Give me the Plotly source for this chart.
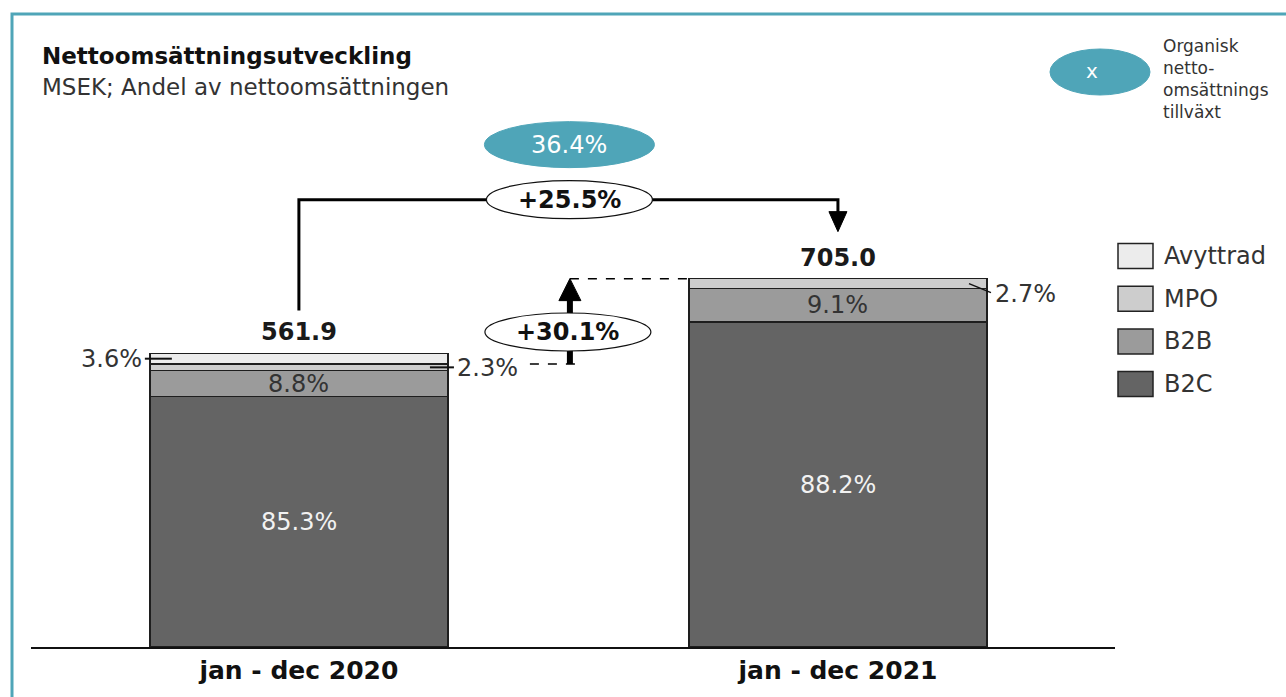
import plotly.graph_objects as go

# ---------------- data ----------------
categories = ["jan - dec 2020", "jan - dec 2021"]
totals = [561.9, 705.0]
series_names = ["B2C", "B2B", "MPO", "Avyttrad"]
share_b2c = [85.3, 88.2]
share_b2b = [8.8, 9.1]
share_mpo = [2.3, 2.7]
share_avyttrad = [3.6, 0.0]
growth_total = "+25.5%"
growth_excl_divested = "+30.1%"
organic_growth = "36.4%"

colors = {"B2C": "#646464", "B2B": "#9b9b9b", "MPO": "#cdcdcd", "Avyttrad": "#ececec"}
shares = {"B2C": share_b2c, "B2B": share_b2b, "MPO": share_mpo, "Avyttrad": share_avyttrad}

FONT = "DejaVu Sans"
TXT = "#333333"
TEAL = "#4fa5b8"
LBL = 24

# ---------------- geometry helpers ----------------
W, H = 1286, 697
L, R, T, B = 31, 1115, 20, 647
XMIN, XMAX = -0.497, 1.514
YMAX = 1200.0
PXX = (R - L) / (XMAX - XMIN)
PXY = (B - T) / YMAX

def dx(p):  # pixels -> x units
    return p / PXX

def dy(p):  # pixels -> y units
    return p / PXY

def paper_x(px):
    return (px - L) / (R - L)

def paper_y(py):
    return (B - py) / (B - T)

xpos = [0, 1]
bar_w = 0.553

values = {n: [t * s / 100 for t, s in zip(totals, shares[n])] for n in series_names}

fig = go.Figure()
for n in series_names:
    fig.add_trace(go.Bar(
        x=xpos, y=[v if v > 0 else None for v in values[n]], name=n,
        width=bar_w, marker=dict(color=colors[n], line=dict(color="#1e1e1e", width=1.5)),
        showlegend=False, hoverinfo="skip",
    ))

shapes = []
ann = []

# segment labels inside bars
for i in range(2):
    base = 0
    for n in series_names:
        v = values[n][i]
        mid = base + v / 2
        if n == "B2C":
            ann.append(dict(x=xpos[i], y=mid, text=f"{shares[n][i]:.1f}%", showarrow=False,
                            font=dict(family=FONT, size=LBL, color="#f2f2f2")))
        elif n == "B2B":
            ann.append(dict(x=xpos[i], y=mid, text=f"{shares[n][i]:.1f}%", showarrow=False,
                            font=dict(family=FONT, size=LBL, color=TXT)))
        base += v

# small segment labels with leader lines
half = bar_w / 2
# 2020 Avyttrad (left)
y_avy = totals[0] - values["Avyttrad"][0] / 2
shapes.append(dict(type="line", xref="x", yref="y", x0=xpos[0] - half - dx(5), x1=xpos[0] - half + dx(22),
                   y0=y_avy, y1=y_avy, line=dict(color="#111", width=2), layer="above"))
ann.append(dict(x=xpos[0] - half - dx(6), y=y_avy, text=f"{share_avyttrad[0]:.1f}%", showarrow=False,
                xanchor="right", font=dict(family=FONT, size=LBL, color=TXT)))
# 2020 MPO (right)
y_mpo0 = values["B2C"][0] + values["B2B"][0] + values["MPO"][0] / 2
shapes.append(dict(type="line", xref="x", yref="y", x0=xpos[0] + half - dx(18), x1=xpos[0] + half + dx(6),
                   y0=y_mpo0, y1=y_mpo0, line=dict(color="#111", width=2), layer="above"))
ann.append(dict(x=xpos[0] + half + dx(7), y=y_mpo0 - dy(1), text=f"{share_mpo[0]:.1f}%", showarrow=False,
                xanchor="left", font=dict(family=FONT, size=LBL, color=TXT)))
# 2021 MPO (right)
y_mpo1 = values["B2C"][1] + values["B2B"][1] + values["MPO"][1] / 2
shapes.append(dict(type="line", xref="x", yref="y", x0=xpos[1] + half - dx(18), x1=xpos[1] + half + dx(4),
                   y0=y_mpo1, y1=y_mpo1 - dy(9), line=dict(color="#111", width=1.5), layer="above"))
ann.append(dict(x=xpos[1] + half + dx(6), y=y_mpo1 - dy(10), text=f"{share_mpo[1]:.1f}%", showarrow=False,
                xanchor="left", font=dict(family=FONT, size=LBL, color=TXT)))

# totals
for i in range(2):
    ann.append(dict(x=xpos[i], y=totals[i], text=f"<b>{totals[i]:.1f}</b>", showarrow=False,
                    yanchor="bottom", yshift=5, font=dict(family=FONT, size=LBL, color="#1a1a1a")))

# ---- +25.5% bracket ----
br_y = totals[1] + dy(79)
start_y = totals[0] + dy(43)
tip_y = totals[1] + dy(47)
shapes.append(dict(type="path", xref="x", yref="y",
                   path=f"M {xpos[0]} {start_y} L {xpos[0]} {br_y} L {xpos[1]} {br_y} L {xpos[1]} {tip_y + dy(18)}",
                   line=dict(color="#000", width=3), layer="above"))
shapes.append(dict(type="path", xref="x", yref="y",
                   path=f"M {xpos[1] - dx(9)} {tip_y + dy(20)} L {xpos[1] + dx(9)} {tip_y + dy(20)} L {xpos[1]} {tip_y} Z",
                   fillcolor="#000", line=dict(color="#000", width=1), layer="above"))
mid_x = (xpos[0] + xpos[1]) / 2 + dx(1)
shapes.append(dict(type="circle", xref="x", yref="y", x0=mid_x - dx(83), x1=mid_x + dx(83),
                   y0=br_y - dy(19), y1=br_y + dy(19), fillcolor="white",
                   line=dict(color="#111", width=1.2), layer="above"))
ann.append(dict(x=mid_x, y=br_y, text=f"<b>{growth_total}</b>", showarrow=False,
                font=dict(family=FONT, size=LBL, color="#111")))

# ---- organic growth bubble ----
org_y = br_y + dy(55)
shapes.append(dict(type="circle", xref="x", yref="y", x0=mid_x - dx(85), x1=mid_x + dx(85),
                   y0=org_y - dy(23), y1=org_y + dy(23), fillcolor=TEAL,
                   line=dict(color=TEAL, width=1), layer="above"))
ann.append(dict(x=mid_x, y=org_y, text=organic_growth, showarrow=False,
                font=dict(family=FONT, size=LBL, color="white")))

# ---- +30.1% arrow (excl. divested) ----
low = totals[0] - values["Avyttrad"][0]
ax = xpos[0] + dx(271)
shapes.append(dict(type="line", xref="x", yref="y", x0=ax - dx(40), x1=ax + dx(12), y0=low, y1=low,
                   line=dict(color="#000", width=1.5, dash="dash"), layer="above"))
shapes.append(dict(type="line", xref="x", yref="y", x0=ax, x1=xpos[1] - half, y0=totals[1], y1=totals[1],
                   line=dict(color="#000", width=1.5, dash="dash"), layer="above"))
shapes.append(dict(type="line", xref="x", yref="y", x0=ax, x1=ax, y0=low, y1=totals[1] - dy(18),
                   line=dict(color="#000", width=6), layer="above"))
shapes.append(dict(type="path", xref="x", yref="y",
                   path=f"M {ax - dx(11)} {totals[1] - dy(22)} L {ax + dx(11)} {totals[1] - dy(22)} L {ax} {totals[1]} Z",
                   fillcolor="#000", line=dict(color="#000", width=1), layer="above"))
e_y = low + dy(32)
e_x = ax - dx(2)
shapes.append(dict(type="circle", xref="x", yref="y", x0=e_x - dx(83), x1=e_x + dx(83),
                   y0=e_y - dy(19), y1=e_y + dy(19), fillcolor="white",
                   line=dict(color="#111", width=1.2), layer="above"))
ann.append(dict(x=e_x, y=e_y, text=f"<b>{growth_excl_divested}</b>", showarrow=False,
                font=dict(family=FONT, size=LBL, color="#111")))

# ---- custom legend ----
leg_rows = ["Avyttrad", "MPO", "B2B", "B2C"]
for k, n in enumerate(leg_rows):
    cy = 256 + k * 42.7
    shapes.append(dict(type="rect", xref="paper", yref="paper", x0=paper_x(1118), x1=paper_x(1153),
                       y0=paper_y(cy + 12.5), y1=paper_y(cy - 12.5), fillcolor=colors[n],
                       line=dict(color="#222", width=1.5)))
    ann.append(dict(xref="paper", yref="paper", x=paper_x(1162), y=paper_y(cy), text=n, showarrow=False,
                    xanchor="left", yanchor="middle", font=dict(family=FONT, size=24, color=TXT)))

# ---- organic growth key (top right) ----
shapes.append(dict(type="circle", xref="paper", yref="paper", x0=paper_x(1050), x1=paper_x(1150),
                   y0=paper_y(95), y1=paper_y(49), fillcolor=TEAL, line=dict(color=TEAL, width=1)))
ann.append(dict(xref="paper", yref="paper", x=paper_x(1100), y=paper_y(57), text="x", showarrow=False,
                font=dict(family=FONT, size=20, color="white")))
ann.append(dict(xref="paper", yref="paper", x=paper_x(1161), y=paper_y(34),
                text="Organisk<br>netto-<br>omsättnings<br>tillväxt", showarrow=False, align="left",
                xanchor="left", yanchor="top", font=dict(family=FONT, size=17, color=TXT)))

# ---- title ----
ann.append(dict(xref="paper", yref="paper", x=paper_x(40), y=paper_y(41), text="<b>Nettoomsättningsutveckling</b>",
                showarrow=False, xanchor="left", yanchor="top", font=dict(family=FONT, size=23, color="#111")))
ann.append(dict(xref="paper", yref="paper", x=paper_x(40), y=paper_y(72), text="MSEK; Andel av nettoomsättningen",
                showarrow=False, xanchor="left", yanchor="top", font=dict(family=FONT, size=23, color=TXT)))

# ---- outer frame ----
shapes.append(dict(type="rect", xref="paper", yref="paper", x0=paper_x(12), x1=paper_x(1320),
                   y0=paper_y(730), y1=paper_y(14), line=dict(color=TEAL, width=3), fillcolor="rgba(0,0,0,0)"))

fig.update_layout(
    width=W, height=H, barmode="stack",
    margin=dict(l=L, r=W - R, t=T, b=H - B, pad=0),
    paper_bgcolor="white", plot_bgcolor="white",
    shapes=shapes, annotations=ann, showlegend=False,
    xaxis=dict(range=[XMIN, XMAX], tickvals=xpos, ticktext=categories, showgrid=False, zeroline=False,
               showline=True, linecolor="#111", linewidth=2, ticks="",
               tickfont=dict(family=FONT, size=25, color="#111", weight="bold")),
    yaxis=dict(range=[0, YMAX], visible=False, showgrid=False, zeroline=False),
)

fig.write_html("out.html", config={"displayModeBar": False},
               post_script="document.body.style.margin='0';")
